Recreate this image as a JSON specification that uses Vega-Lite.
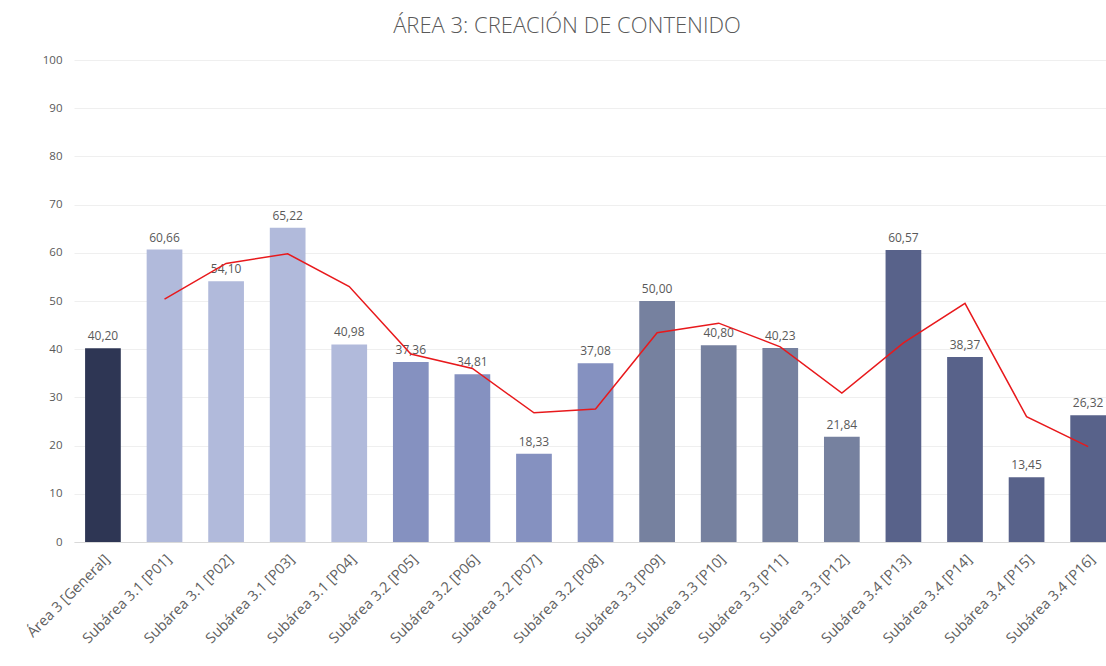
{
  "$schema": "https://vega.github.io/schema/vega-lite/v6.json",
  "width": 1032,
  "height": 482,
  "autosize": "none",
  "padding": {"left": 74, "top": 60, "right": 0, "bottom": 124},
  "background": "white",
  "config": {
    "locale": {"number": {"decimal": ",", "thousands": ".", "grouping": [3], "currency": ["", " €"]}},
    "view": {"stroke": null},
    "font": "Open Sans"
  },
  "title": {
    "text": "ÁREA 3: CREACIÓN DE CONTENIDO",
    "fontSize": 22,
    "font": "Open Sans",
    "fontWeight": 300,
    "color": "#595959",
    "offset": 16,
    "dx": -23
  },
  "data": {
    "values": [
      {"cat": "Área 3 [General]", "grupo": "General", "valor": 40.20, "linea": null},
      {"cat": "Subárea 3.1 [P01]", "grupo": "3.1", "valor": 60.66, "linea": 50.4},
      {"cat": "Subárea 3.1 [P02]", "grupo": "3.1", "valor": 54.10, "linea": 57.8},
      {"cat": "Subárea 3.1 [P03]", "grupo": "3.1", "valor": 65.22, "linea": 59.8},
      {"cat": "Subárea 3.1 [P04]", "grupo": "3.1", "valor": 40.98, "linea": 53.0},
      {"cat": "Subárea 3.2 [P05]", "grupo": "3.2", "valor": 37.36, "linea": 39.0},
      {"cat": "Subárea 3.2 [P06]", "grupo": "3.2", "valor": 34.81, "linea": 36.0},
      {"cat": "Subárea 3.2 [P07]", "grupo": "3.2", "valor": 18.33, "linea": 26.8},
      {"cat": "Subárea 3.2 [P08]", "grupo": "3.2", "valor": 37.08, "linea": 27.6},
      {"cat": "Subárea 3.3 [P09]", "grupo": "3.3", "valor": 50.00, "linea": 43.4},
      {"cat": "Subárea 3.3 [P10]", "grupo": "3.3", "valor": 40.80, "linea": 45.4},
      {"cat": "Subárea 3.3 [P11]", "grupo": "3.3", "valor": 40.23, "linea": 40.5},
      {"cat": "Subárea 3.3 [P12]", "grupo": "3.3", "valor": 21.84, "linea": 30.9},
      {"cat": "Subárea 3.4 [P13]", "grupo": "3.4", "valor": 60.57, "linea": 41.3},
      {"cat": "Subárea 3.4 [P14]", "grupo": "3.4", "valor": 38.37, "linea": 49.5},
      {"cat": "Subárea 3.4 [P15]", "grupo": "3.4", "valor": 13.45, "linea": 26.0},
      {"cat": "Subárea 3.4 [P16]", "grupo": "3.4", "valor": 26.32, "linea": 19.8}
    ]
  },
  "encoding": {
    "x": {
      "field": "cat",
      "type": "nominal",
      "sort": null,
      "scale": {"paddingInner": 0.42, "paddingOuter": 0.09, "align": 1},
      "axis": {
        "title": null,
        "labelAngle": -45,
        "labelFontSize": 14.5,
        "labelColor": "#606060",
        "labelFont": "Open Sans",
        "ticks": false,
        "domainColor": "#D9D9D9",
        "labelPadding": 10,
        "labelLimit": 220
      }
    }
  },
  "layer": [
    {
      "mark": {"type": "bar"},
      "encoding": {
        "y": {
          "field": "valor",
          "type": "quantitative",
          "scale": {"domain": [0, 100]},
          "axis": {
            "title": null,
            "values": [0, 10, 20, 30, 40, 50, 60, 70, 80, 90, 100],
            "labelFontSize": 11.5,
            "labelColor": "#595959",
            "labelPadding": 12,
            "ticks": false,
            "domain": false,
            "gridColor": "#EFEFEF",
            "gridWidth": 1
          }
        },
        "color": {
          "field": "grupo",
          "type": "nominal",
          "scale": {
            "domain": ["General", "3.1", "3.2", "3.3", "3.4"],
            "range": ["#2E3654", "#B1BADB", "#8591C0", "#76819F", "#58628A"]
          },
          "legend": null
        }
      }
    },
    {
      "mark": {"type": "text", "dy": -12, "fontSize": 12, "color": "#595959", "font": "Open Sans"},
      "encoding": {
        "y": {"field": "valor", "type": "quantitative"},
        "text": {"field": "valor", "type": "quantitative", "format": ".2f"}
      }
    },
    {
      "transform": [{"filter": "datum.linea != null"}],
      "mark": {"type": "line", "color": "#E8191C", "strokeWidth": 1.5},
      "encoding": {
        "y": {"field": "linea", "type": "quantitative"}
      }
    }
  ]
}
